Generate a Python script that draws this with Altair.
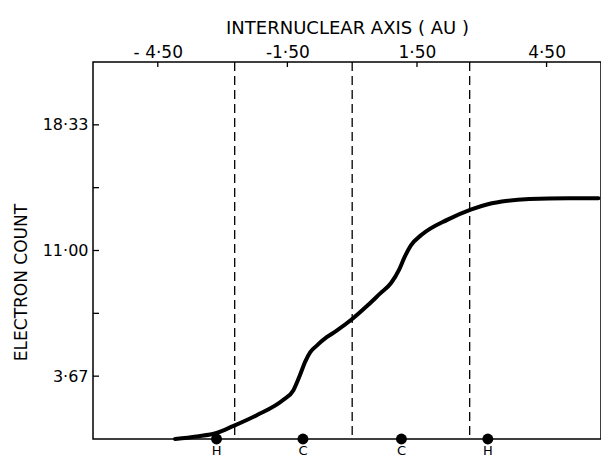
import altair as alt
import pandas as pd

# --- data ---
curve_x = [-4.1, -3.6, -3.14, -2.76, -2.21, -1.6, -1.36, -1.21, -1.09, -0.97, -0.82, -0.59, -0.36, 0.0,
           0.36, 0.65, 0.9, 1.09, 1.21, 1.36, 1.6, 2.21, 2.76, 3.14, 3.6, 4.1, 5.0, 5.7]
curve_y = [0.0, 0.15, 0.35, 0.75, 1.39, 2.27, 2.85, 3.72, 4.5, 5.07, 5.45, 5.94, 6.32, 7.0,
           7.8, 8.5, 9.1, 9.9, 10.6, 11.3, 11.9, 12.8, 13.4, 13.7, 13.9, 14.0, 14.05, 14.05]

dash_x = [-2.72, 0.0, 2.72]
atom_x = [-3.14, -1.14, 1.14, 3.14]
atom_lab = ["H", "C", "C", "H"]

x_ticks = [-4.5, -1.5, 1.5, 4.5]
x_tick_labels = ["- 4·50", "-1·50", "1·50", "4·50"]
y_ticks = [22 / 6 * k for k in range(1, 6)]
y_tick_labels = ["3·67", "", "11·00", "", "18·33"]

X_DOMAIN = [-6.0, 5.76]
Y_DOMAIN = [0, 22]
W, H = 508, 377
PAD_B = 19
FONT = "DejaVu Sans"


def label_expr(vals, labs):
    expr = "''"
    for v, l in reversed(list(zip(vals, labs))):
        expr = f"abs(datum.value - ({v})) < 0.01 ? '{l}' : ({expr})"
    return expr


xs = alt.Scale(domain=X_DOMAIN, nice=False, zero=False)
ys = alt.Scale(domain=Y_DOMAIN, nice=False, zero=False)

x_axis = alt.Axis(
    orient="top", values=x_ticks, labelExpr=label_expr(x_ticks, x_tick_labels),
    ticks=False, domain=False, grid=False, labelPadding=1,
    title="INTERNUCLEAR    AXIS  ( AU )", titlePadding=6,
    labelFont=FONT, titleFont=FONT, labelFontSize=17, titleFontSize=18,
    titleFontWeight="normal", labelColor="black", titleColor="black")
y_axis = alt.Axis(
    values=y_ticks, labelExpr=label_expr(y_ticks, y_tick_labels),
    ticks=False, domain=False, grid=False, labelPadding=5,
    title="ELECTRON  COUNT", titleAngle=270, titleX=-72, titleY=220,
    titleAlign="center", titleBaseline="middle",
    labelFont=FONT, titleFont=FONT, labelFontSize=16, titleFontSize=17,
    titleFontWeight="normal", labelColor="black", titleColor="black")

X = alt.X("x:Q", scale=xs, axis=x_axis)
Y = alt.Y("y:Q", scale=ys, axis=y_axis)

curve_df = pd.DataFrame({"x": curve_x, "y": curve_y})
dash_df = pd.DataFrame({"x": dash_x})
atom_df = pd.DataFrame({"x": atom_x, "y": [0] * len(atom_x), "lab": atom_lab})
xt_df = pd.DataFrame({"x": x_ticks})
yt_df = pd.DataFrame({"y": y_ticks})

curve = alt.Chart(curve_df).mark_line(
    color="black", strokeWidth=4, interpolate="monotone", strokeCap="round"
).encode(x=X, y=Y)

dashes = alt.Chart(dash_df).mark_rule(
    color="black", strokeWidth=1.3, strokeDash=[9, 5]
).encode(x=X, y=alt.value(0), y2=alt.value(H))

top_ticks = alt.Chart(xt_df).mark_rule(color="black", strokeWidth=1.3).encode(
    x=X, y=alt.value(0), y2=alt.value(5))

left_ticks = alt.Chart(yt_df).mark_rule(color="black", strokeWidth=1.3).encode(
    y=Y, x=alt.value(0), x2=alt.value(6))

atoms = alt.Chart(atom_df).mark_circle(color="black", opacity=1, size=120).encode(
    x=X, y=Y)

atom_text = alt.Chart(atom_df).mark_text(
    font=FONT, fontSize=13, color="black", baseline="bottom", align="center"
).encode(x=X, y=alt.value(H + PAD_B), text="lab:N")

chart = alt.layer(curve, dashes, top_ticks, left_ticks, atoms, atom_text).properties(
    width=W, height=H,
    autosize=alt.AutoSizeParams(type="none"),
    padding={"left": 85, "top": 54, "right": 0, "bottom": PAD_B},
    background="white",
).configure_view(
    stroke="black", strokeWidth=1.5
)

chart.save("out.html", embed_options={"renderer": "svg", "actions": False})
